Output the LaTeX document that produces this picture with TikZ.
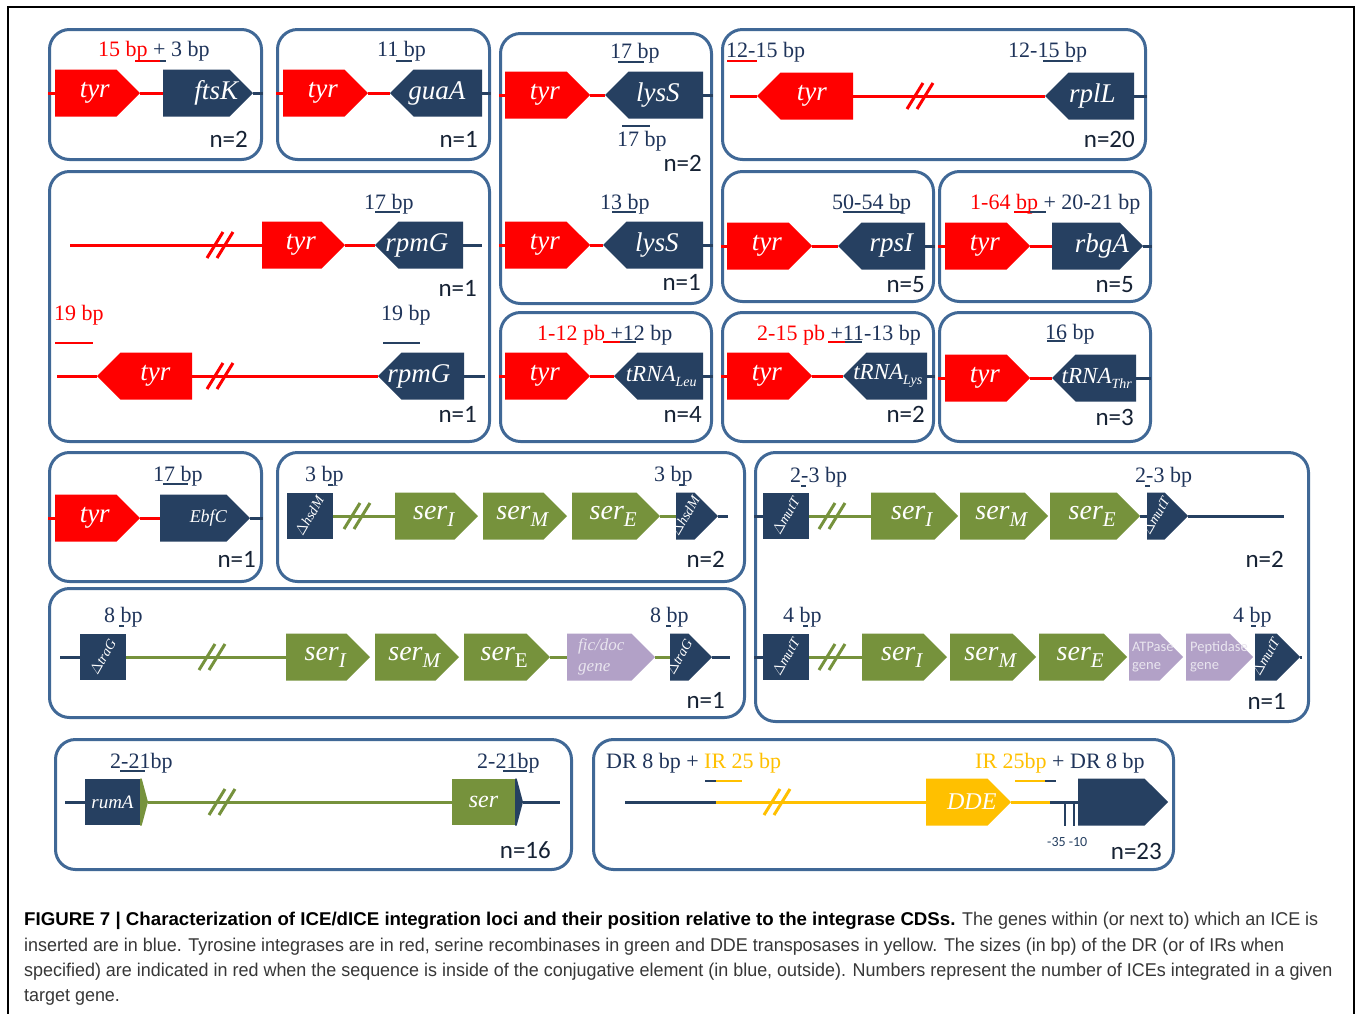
\documentclass[tikz,border=0pt]{standalone}
\usepackage{fontspec}
\setmainfont{Liberation Serif}
\newfontfamily\calib{Carlito}
\newfontfamily\capfont[FakeStretch=0.97]{Liberation Sans}
\newfontfamily\capB[FakeStretch=1.01]{Liberation Sans}
\usetikzlibrary{shapes.symbols}
\definecolor{tyrred}{RGB}{255,0,0}
\definecolor{navy}{RGB}{38,64,97}
\definecolor{boxc}{RGB}{64,104,150}
\definecolor{sgreen}{RGB}{118,146,60}
\definecolor{lav}{RGB}{178,161,199}
\definecolor{ddey}{RGB}{255,192,0}
\definecolor{ntext}{RGB}{22,34,52}
\definecolor{bptext}{RGB}{31,52,90}
\definecolor{captext}{RGB}{55,55,55}
\newcommand\genefont{\fontsize{27}{27}\selectfont\itshape}
\newcommand\bpfont{\fontsize{22}{22}\selectfont}
\newcommand\nfnt{\calib\fontsize{25}{25}\selectfont}
\newcommand\rotfont{\fontsize{14}{14}\selectfont\itshape}
\newcommand\serl[1]{\fontsize{28}{28}\selectfont\itshape ser\raisebox{-7pt}{\fontsize{21}{21}\selectfont #1}}
\newcommand\trna[1]{\fontsize{23}{23}\selectfont\itshape tRNA\raisebox{-5pt}{\fontsize{14}{14}\selectfont #1}}
\newcommand\brk[3]{\draw[#3, line width=3pt] (#1-13,#2+13) -- (#1+3,#2-13) (#1-3,#2+13) -- (#1+13,#2-13);}
\tikzset{
 gshift/.style={execute at begin node={\hbox to 0pt\bgroup\hss\hskip #1\relax}, execute at end node={\hss\egroup}},
 gene/.style={signal, signal pointer angle=90, draw=none, inner sep=0pt, outer sep=0pt, minimum height=47pt, text=white, font=\genefont},
 pr/.style={signal to=east, signal from=nowhere, anchor=west, gshift=18pt},
 pl/.style={signal to=west, signal from=nowhere, anchor=east, gshift=-10pt},
 tyrg/.style={gene, fill=tyrred},
 hostg/.style={gene, fill=navy},
 serg/.style={gene, fill=sgreen},
 lavg/.style={gene, fill=lav},
 ddeg/.style={gene, fill=ddey},
 hrect/.style={rectangle, fill=navy, inner sep=0pt, outer sep=0pt, minimum width=46pt, minimum height=46pt},
 rl/.style={draw=tyrred, line width=3pt},
 nl/.style={draw=navy, line width=3pt},
 gl/.style={draw=sgreen, line width=3pt},
 yl/.style={draw=ddey, line width=3pt},
 bpbar/.style={line width=2.5pt},
 bp/.style={font=\bpfont, text=bptext, inner sep=0pt, anchor=base west},
 nlab/.style={font=\nfnt, text=ntext, inner sep=0pt, anchor=base east},
 panel/.style={draw=boxc, line width=3pt, rounded corners=20pt, inner sep=0pt, anchor=north west},
 rot/.style={text=white, font=\rotfont, rotate=60, inner sep=0pt},
 lavtxt/.style={text=white!72!lav, inner sep=0pt, anchor=west, align=left},
 captxt/.style={font=\capfont\fontsize{18.5}{18.5}\selectfont, text=captext, inner sep=0pt, anchor=base west},
}
\begin{document}
\begin{tikzpicture}[x=1pt,y=-1pt]
\useasboundingbox (0,0) rectangle (1356,1013);
\fill[white] (0,0) rectangle (1356,1013);
\draw[black, line width=2.5pt] (8,1020) -- (8,7) -- (1354,7) -- (1354,1020);

% ---------- Panel A
\node[panel, minimum width=212, minimum height=130] (pA) at (48,28) {};
\node[tyrg, pr, minimum width=85] (tyrA) at (55,93) {tyr};
\node[hostg, pr, minimum width=90, gshift=22pt] (ftsK) at (163,93) {ftsK};
\draw[rl] (pA.west |- tyrA.west) -- (tyrA.west);
\draw[rl] (tyrA.east) -- (ftsK.west);
\draw[nl] (ftsK.east) -- (pA.east |- ftsK.east);
\node[bp] (lA) at (98,56) {\textcolor{tyrred}{15 bp} + 3 bp};
\draw[bpbar, tyrred] (135,61) -- (160,61);
\draw[bpbar, navy] (160,61) -- (166,61);
\node[nlab] (nA) at (248,147) {n=2};

% ---------- Panel B
\node[panel, minimum width=212, minimum height=130] (pB) at (276,28) {};
\node[tyrg, pr, minimum width=85] (tyrB) at (283,93) {tyr};
\node[hostg, pl, minimum width=92, gshift=-12pt] (guaA) at (482,93) {guaA};
\draw[rl] (pB.west |- tyrB.west) -- (tyrB.west);
\draw[rl] (tyrB.east) -- (guaA.west);
\draw[nl] (guaA.east) -- (pB.east |- guaA.east);
\node[bp] (lB) at (377,56) {11 bp};
\draw[bpbar, navy] (396,61) -- (412,61);
\node[nlab] (nB) at (478,147) {n=1};

% ---------- Panel C
\node[panel, minimum width=211, minimum height=270] (pC) at (499,32) {};
\node[tyrg, pr, minimum width=85] (tyrC1) at (505,95) {tyr};
\node[hostg, pl, minimum width=98, gshift=-6pt] (lysS1) at (703,95) {lysS};
\draw[rl] (pC.west |- tyrC1.west) -- (tyrC1.west);
\draw[rl] (tyrC1.east) -- (lysS1.west);
\draw[nl] (lysS1.east) -- (pC.east |- lysS1.east);
\node[bp] (lC1) at (610,58) {17 bp};
\draw[bpbar, navy] (618,62) -- (644,62);
\node[bp] (lC2) at (617,146) {17 bp};
\draw[bpbar, navy] (622,126) -- (650,126);
\node[nlab] (nC1) at (702,171) {n=2};
\node[tyrg, pr, minimum width=85] (tyrC2) at (505,245) {tyr};
\node[hostg, pl, minimum width=100, gshift=-6pt] (lysS2) at (703,245) {lysS};
\draw[rl] (pC.west |- tyrC2.west) -- (tyrC2.west);
\draw[rl] (tyrC2.east) -- (lysS2.west);
\draw[nl] (lysS2.east) -- (pC.east |- lysS2.east);
\node[bp] (lC3) at (600,209) {13 bp};
\draw[bpbar, navy] (612,212) -- (636,212);
\node[nlab] (nC2) at (701,290) {n=1};

% ---------- Panel D
\node[panel, minimum width=423, minimum height=130] (pD) at (721,28) {};
\coordinate (dS) at (730,96);
\node[tyrg, pl, minimum width=96, gshift=0pt] (tyrD) at (853,96) {tyr};
\node[hostg, pl, minimum width=89, gshift=-8pt] (rplL) at (1134,96) {rplL};
\draw[rl] (dS) -- (tyrD.west);
\draw[rl] (tyrD.east) -- (rplL.west);
\brk{920}{96}{tyrred}
\draw[nl] (rplL.east) -- (pD.east |- rplL.east);
\node[bp] (lD1) at (726,57) {12-15 bp};
\draw[bpbar, tyrred] (727,61) -- (757,61);
\node[bp] (lD2) at (1008,57) {12-15 bp};
\draw[bpbar, navy] (1043,61) -- (1073,61);
\node[nlab] (nD) at (1135,147) {n=20};

% ---------- Panel E
\node[panel, minimum width=440, minimum height=270] (pE) at (48,170) {};
\coordinate (eS1) at (70,245);
\node[tyrg, pr, minimum width=83] (tyrE1) at (262,245) {tyr};
\node[hostg, pl, minimum width=88, gshift=-18pt] (rpmG1) at (463,245) {rpmG};
\coordinate (eE1) at (482,245);
\draw[rl] (eS1) -- (tyrE1.west);
\brk{220}{245}{tyrred}
\draw[rl] (tyrE1.east) -- (rpmG1.west);
\draw[nl] (rpmG1.east) -- (eE1);
\node[bp] (lE1) at (364,209) {17 bp};
\draw[bpbar, navy] (375,212) -- (400,212);
\node[nlab] (nE1) at (477,296) {n=1};
\coordinate (eS2) at (57,376);
\node[tyrg, pl, minimum width=95, gshift=8pt] (tyrE2) at (192,376) {tyr};
\node[hostg, pl, minimum width=86, gshift=-18pt] (rpmG2) at (464,376) {rpmG};
\coordinate (eE2) at (485,376);
\draw[rl] (eS2) -- (tyrE2.west);
\draw[rl] (tyrE2.east) -- (rpmG2.west);
\brk{220}{376}{tyrred}
\draw[nl] (rpmG2.east) -- (eE2);
\node[bp, text=tyrred] (lE2) at (54,320) {19 bp};
\draw[bpbar, tyrred] (55,343) -- (93,343);
\node[bp] (lE3) at (381,320) {19 bp};
\draw[bpbar, navy] (383,343) -- (420,343);
\node[nlab] (nE2) at (477,422) {n=1};

% ---------- Panel F
\node[panel, minimum width=211, minimum height=130] (pF) at (721,170) {};
\node[tyrg, pr, minimum width=85] (tyrF) at (727,246) {tyr};
\node[hostg, pl, minimum width=87, gshift=6pt] (rpsI) at (925,246) {rpsI};
\draw[rl] (pF.west |- tyrF.west) -- (tyrF.west);
\draw[rl] (tyrF.east) -- (rpsI.west);
\draw[nl] (rpsI.east) -- (pF.east |- rpsI.east);
\node[bp] (lF) at (832,209) {50-54 bp};
\draw[bpbar, navy] (843,212) -- (903,212);
\node[nlab] (nF) at (925,292) {n=5};

% ---------- Panel G
\node[panel, minimum width=211, minimum height=130] (pG) at (938,170) {};
\node[tyrg, pr, minimum width=85] (tyrG) at (945,246) {tyr};
\node[hostg, pr, minimum width=91, gshift=14pt] (rbgA) at (1052,246) {rbgA};
\draw[rl] (pG.west |- tyrG.west) -- (tyrG.west);
\draw[rl] (tyrG.east) -- (rbgA.west);
\draw[nl] (rbgA.east) -- (pG.east |- rbgA.east);
\node[bp] (lG) at (970,209) {\textcolor{tyrred}{1-64 bp} + 20-21 bp};
\draw[bpbar, tyrred] (1014,212) -- (1030,212);
\draw[bpbar, navy] (1030,212) -- (1046,212);
\node[nlab] (nG) at (1134,292) {n=5};

% ---------- Panel H
\node[panel, minimum width=211, minimum height=129] (pH) at (499,311) {};
\node[tyrg, pr, minimum width=85] (tyrH) at (505,376) {tyr};
\node[hostg, pl, minimum width=89, gshift=-8pt] (tLeu) at (703,376) {\trna{Leu}};
\draw[rl] (pH.west |- tyrH.west) -- (tyrH.west);
\draw[rl] (tyrH.east) -- (tLeu.west);
\draw[nl] (tLeu.east) -- (pH.east |- tLeu.east);
\node[bp] (lH) at (537,340) {\textcolor{tyrred}{1-12 pb} +12 bp};
\draw[bpbar, tyrred] (603,342) -- (620,342);
\draw[bpbar, navy] (620,342) -- (636,342);
\node[nlab] (nH) at (702,422) {n=4};

% ---------- Panel I
\node[panel, minimum width=211, minimum height=129] (pI) at (721,311) {};
\node[tyrg, pr, minimum width=85] (tyrI) at (727,376) {tyr};
\node[hostg, pl, minimum width=84, gshift=-8pt] (tLys) at (927,376) {\trna{Lys}};
\draw[rl] (pI.west |- tyrI.west) -- (tyrI.west);
\draw[rl] (tyrI.east) -- (tLys.west);
\draw[nl] (tLys.east) -- (pI.east |- tLys.east);
\node[bp] (lI) at (757,340) {\textcolor{tyrred}{2-15 pb} +11-13 bp};
\draw[bpbar, tyrred] (828,342) -- (845,342);
\draw[bpbar, navy] (845,342) -- (862,342);
\node[nlab] (nI) at (925,422) {n=2};

% ---------- Panel J
\node[panel, minimum width=211, minimum height=129] (pJ) at (938,311) {};
\node[tyrg, pr, minimum width=85] (tyrJ) at (945,378) {tyr};
\node[hostg, pl, minimum width=84, gshift=-8pt] (tThr) at (1136,378) {\trna{Thr}};
\coordinate (jE) at (1151,378);
\draw[rl] (pJ.west |- tyrJ.west) -- (tyrJ.west);
\draw[rl] (tyrJ.east) -- (tThr.west);
\draw[nl] (tThr.east) -- (jE);
\node[bp] (lJ) at (1045,339) {16 bp};
\draw[bpbar, navy] (1047,341) -- (1065,341);
\node[nlab] (nJ) at (1134,425) {n=3};

% ---------- Panel K
\node[panel, minimum width=212, minimum height=129] (pK) at (48,451) {};
\node[tyrg, pr, minimum width=85] (tyrK) at (55,518) {tyr};
\node[hostg, pr, minimum width=90, font=\fontsize{18}{18}\selectfont\itshape, gshift=12pt] (ebfC) at (160,518) {EbfC};
\draw[rl] (pK.west |- tyrK.west) -- (tyrK.west);
\draw[rl] (tyrK.east) -- (ebfC.west);
\draw[nl] (ebfC.east) -- (pK.east |- ebfC.east);
\node[bp] (lK) at (153,481) {17 bp};
\draw[bpbar, navy] (163,484) -- (188,484);
\node[nlab] (nK) at (256,567) {n=1};

% ---------- Panel L
\node[panel, minimum width=467, minimum height=129] (pL) at (276,451) {};
\node[hrect, label={[rot]center:$\Delta$hsdM}] (hsd1) at (309.5,516) {};
\node[serg, pr, minimum width=83] (serIL) at (395,516) {\serl{I}};
\node[serg, pr, minimum width=84] (serML) at (483,516) {\serl{M}};
\node[serg, pr, minimum width=88] (serEL) at (572,516) {\serl{E}};
\node[hostg, pr, minimum width=42, label={[rot]center:$\Delta$hsdM}] (hsd2) at (676,516) {};
\coordinate (lEnd) at (728,516);
\draw[gl] (hsd1.east) -- (serIL.west);
\brk{357}{516}{sgreen}
\draw[gl] (serEL.east) -- (hsd2.west);
\draw[nl] (hsd2.east) -- (lEnd);
\node[bp] (lL1) at (305,481) {3 bp};
\draw[bpbar, navy] (328,485) -- (333,485);
\node[bp] (lL2) at (654,481) {3 bp};
\draw[bpbar, navy] (679,485) -- (684,485);
\node[nlab] (nL) at (725,567) {n=2};

% ---------- Panel M
\node[panel, minimum width=553, minimum height=269] (pM) at (754,451) {};
\node[hrect, label={[rot]center:$\Delta$mutT}] (mut1) at (786,516) {};
\node[serg, pr, minimum width=87] (serIM1) at (871,516) {\serl{I}};
\node[serg, pr, minimum width=88] (serMM1) at (960,516) {\serl{M}};
\node[serg, pr, minimum width=90] (serEM1) at (1050,516) {\serl{E}};
\node[hostg, pr, minimum width=41, label={[rot]center:$\Delta$mutT}] (mut2) at (1147,516) {};
\coordinate (mEnd1) at (1284,516);
\draw[nl] (pM.west |- mut1.west) -- (mut1.west);
\draw[gl] (mut1.east) -- (serIM1.west);
\brk{832}{516}{sgreen}
\draw[nl] (serEM1.east) -- (mut2.west);
\draw[nl] (mut2.east) -- (mEnd1);
\node[bp] (lM1) at (790,482) {2-3 bp};
\draw[bpbar, navy] (801,486) -- (806,486);
\node[bp] (lM2) at (1135,482) {2-3 bp};
\draw[bpbar, navy] (1145,486) -- (1150,486);
\node[nlab] (nM1) at (1284,567) {n=2};
\node[hrect, label={[rot]center:$\Delta$mutT}] (mut3) at (786,657) {};
\node[serg, pr, minimum width=85] (serIM2) at (862,657) {\serl{I}};
\node[serg, pr, minimum width=86] (serMM2) at (950,657) {\serl{M}};
\node[serg, pr, minimum width=88] (serEM2) at (1039,657) {\serl{E}};
\node[lavg, pr, minimum width=54] (atp) at (1129,657) {};
\node[lavtxt, font=\calib\fontsize{14.5}{18}\selectfont] (atpT) at ([xshift=3pt]atp.west) {ATPase\\gene};
\node[lavg, pr, minimum width=67] (pep) at (1186,657) {};
\node[lavtxt, font=\calib\fontsize{14.5}{18}\selectfont] (pepT) at ([xshift=4pt]pep.west) {Peptidase\\gene};
\node[hostg, pr, minimum width=45, label={[rot]center:$\Delta$mutT}] (mut4) at (1255,657) {};
\coordinate (mEnd2) at (1302,657);
\draw[nl] (pM.west |- mut3.west) -- (mut3.west);
\draw[gl] (mut3.east) -- (serIM2.west);
\brk{832}{657}{sgreen}
\draw[nl] (mut4.east) -- (mEnd2);
\node[bp] (lM3) at (783,622) {4 bp};
\draw[bpbar, navy] (803,626) -- (808,626);
\node[bp] (lM4) at (1233,622) {4 bp};
\draw[bpbar, navy] (1251,626) -- (1256,626);
\node[nlab] (nM2) at (1286,709) {n=1};

% ---------- Panel N
\node[panel, minimum width=695, minimum height=129] (pN) at (48,587) {};
\coordinate (nS) at (60,657);
\node[hrect, label={[rot]center:$\Delta$traG}] (tra1) at (103,657) {};
\node[serg, pr, minimum width=84] (serIN) at (286,657) {\serl{I}};
\node[serg, pr, minimum width=84] (serMN) at (375,657) {\serl{M}};
\node[serg, pr, minimum width=86] (serEN) at (464,657) {\fontsize{28}{28}\selectfont\itshape ser\raisebox{-7pt}{\fontsize{21}{21}\selectfont\upshape E}};
\node[lavg, pr, minimum width=88] (fic) at (567,657) {};
\node[lavtxt, font=\fontsize{17}{21}\selectfont\itshape] (ficT) at ([xshift=11pt]fic.west) {fic/doc\\gene};
\node[hostg, pr, minimum width=42, label={[rot]center:$\Delta$traG}] (tra2) at (670,657) {};
\coordinate (nE) at (730,657);
\draw[nl] (nS) -- (tra1.west);
\draw[gl] (tra1.east) -- (serIN.west);
\brk{212}{657}{sgreen}
\draw[gl] (serEN.east) -- (fic.west);
\draw[gl] (fic.east) -- (tra2.west);
\draw[nl] (tra2.east) -- (nE);
\node[bp] (lN1) at (104,622) {8 bp};
\draw[bpbar, navy] (119,626) -- (124,626);
\node[bp] (lN2) at (650,622) {8 bp};
\draw[bpbar, navy] (666,626) -- (671,626);
\node[nlab] (nN) at (725,708) {n=1};

% ---------- Panel O
\node[panel, minimum width=516, minimum height=130] (pO) at (54,738) {};
\coordinate (oS) at (65,802);
\node[hrect, minimum width=55, text=white, font=\fontsize{19}{19}\selectfont\itshape] (rumA) at (112.5,802) {rumA};
\node[gene, pr, fill=sgreen, minimum width=8, signal pointer angle=150] (gs1) at (140,802) {};
\node[hrect, fill=sgreen, minimum width=63, text=white, font=\fontsize{24}{24}\selectfont\itshape] (serO) at (483.5,802) {ser};
\node[gene, pr, fill=navy, minimum width=8, signal pointer angle=150] (ns1) at (515,802) {};
\coordinate (oE) at (560,802);
\draw[nl] (oS) -- (rumA.west);
\draw[gl] (gs1.east) -- (serO.west);
\brk{222}{802}{sgreen}
\draw[nl] (ns1.east) -- (oE);
\node[bp] (lO1) at (110,768) {2-21bp};
\draw[bpbar, navy] (120,771) -- (145,771);
\node[bp] (lO2) at (477,768) {2-21bp};
\draw[bpbar, navy] (503,771) -- (527,771);
\node[nlab] (nO) at (551,858) {n=16};

% ---------- Panel P
\node[panel, minimum width=580, minimum height=130] (pP) at (592,738) {};
\coordinate (pS) at (625,802);
\coordinate (pJ1) at (716,802);
\node[ddeg, pr, minimum width=85, font=\fontsize{24}{24}\selectfont\itshape, gshift=12pt] (dde) at (926,802) {DDE};
\coordinate (pJ2) at (1050,802);
\node[hostg, pr, minimum width=90] (big) at (1078,802) {};
\draw[nl] (pS) -- (pJ1);
\draw[yl] (pJ1) -- (dde.west);
\brk{777}{802}{ddey}
\draw[yl] (dde.east) -- (pJ2);
\draw[nl] (pJ2) -- (big.west);
\draw[navy, line width=1.5pt] (1065,802) -- (1065,826) (1074,802) -- (1074,826);
\node[inner sep=0pt, anchor=base west, text=navy, font=\calib\fontsize{14}{14}\selectfont] (prom) at (1047,846) {-35 -10};
\node[bp] (lP1) at (606,768) {DR 8 bp + \textcolor{ddey}{IR 25 bp}};
\draw[bpbar, navy] (705,781) -- (716,781);
\draw[bpbar, ddey] (716,781) -- (742,781);
\node[bp] (lP2) at (975,768) {\textcolor{ddey}{IR 25bp} + DR 8 bp};
\draw[bpbar, ddey] (1015,781) -- (1045,781);
\draw[bpbar, navy] (1045,781) -- (1056,781);
\node[nlab] (nP) at (1162,859) {n=23};

% ---------- Caption
\node[captxt] (cap1) at (24,925) {\textcolor{black}{\capB\bfseries FIGURE 7 | Characterization of ICE/dICE integration loci and their position relative to the integrase CDSs.} The genes within (or next to) which an ICE is};
\node[captxt] (cap2) at (24,951) {inserted are in blue. Tyrosine integrases are in red, serine recombinases in green and DDE transposases in yellow. The sizes (in bp) of the DR (or of IRs when};
\node[captxt] (cap3) at (24,976) {specified) are indicated in red when the sequence is inside of the conjugative element (in blue, outside). Numbers represent the number of ICEs integrated in a given};
\node[captxt] (cap4) at (24,1001) {target gene.};
\end{tikzpicture}
\end{document}
